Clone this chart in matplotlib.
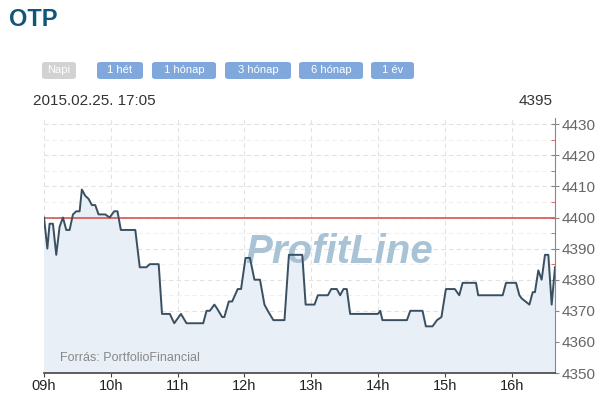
import numpy as np
import matplotlib
matplotlib.use("Agg")
import matplotlib.pyplot as plt
from matplotlib.patches import FancyBboxPatch
from matplotlib.ticker import MultipleLocator

plt.rcParams['font.family'] = ['Liberation Sans', 'DejaVu Sans']

# intraday trades, minutes after 09:00 and price (HUF)
minutes = [0, 3, 5, 8, 11, 14, 17, 20, 23, 26, 29, 32, 34, 37, 40, 43, 46, 49,
           55, 59, 63, 66, 69, 82, 86, 92, 95, 103, 106, 113, 117, 123, 128, 143,
           146, 149, 153, 155, 160, 162, 166, 169, 174, 177, 181, 185, 189, 194,
           198, 201, 206, 216, 220, 232, 235, 243, 246, 255, 258, 263, 266, 269,
           272, 275, 300, 302, 304, 326, 329, 340, 343, 349, 353, 357, 361, 369,
           373, 376, 388, 390, 412, 415, 424, 427, 429, 436, 439, 441, 444, 447,
           450, 453, 456, 459]
prices = [4400, 4390, 4398, 4398, 4388, 4397, 4400, 4396, 4396, 4401, 4402, 4402,
          4409, 4407, 4406, 4404, 4404, 4401, 4401, 4400, 4402, 4402, 4396, 4396,
          4384, 4384, 4385, 4385, 4369, 4369, 4366, 4369, 4366, 4366, 4370, 4370,
          4372, 4371, 4368, 4368, 4373, 4373, 4377, 4377, 4387, 4387, 4380, 4380,
          4372, 4370, 4367, 4367, 4388, 4388, 4372, 4372, 4375, 4375, 4377, 4377,
          4375, 4377, 4377, 4369, 4369, 4370, 4367, 4367, 4370, 4370, 4365, 4365,
          4367, 4368, 4377, 4377, 4375, 4379, 4379, 4375, 4375, 4379, 4379, 4375,
          4374, 4372, 4376, 4376, 4383, 4380, 4388, 4388, 4372, 4384]
prev_close = 4400
last_price = 4395
hour_ticks = [9, 10, 11, 12, 13, 14, 15, 16]
hour_labels = ['09h', '10h', '11h', '12h', '13h', '14h', '15h', '16h']
buttons = ['Napi', '1 hét', '1 hónap', '3 hónap', '6 hónap', '1 év']

hours = 9 + np.array(minutes) / 60.0

fig = plt.figure(figsize=(6.04, 4.09), dpi=100)
W, H = 604, 409

# header
fig.text(9 / W, 1 - 19 / H, 'OTP', fontsize=17, fontweight='bold',
         color='#0f5679', va='center', ha='left')

btn_x = [42, 97, 152, 225, 299, 371]
btn_w = [34, 46, 64, 66, 64, 43]
for i, lab in enumerate(buttons):
    col = '#d2d2d2' if i == 0 else '#80a8dc'
    box = FancyBboxPatch((btn_x[i] / W, 1 - 79 / H), btn_w[i] / W, 17 / H,
                         boxstyle='round,pad=0,rounding_size=0.006',
                         transform=fig.transFigure, facecolor=col,
                         edgecolor='none')
    fig.patches.append(box)
    fig.text((btn_x[i] + btn_w[i] / 2) / W, 1 - 70 / H, lab, fontsize=8,
             color='white', ha='center', va='center')

fig.text(33 / W, 1 - 101 / H, '2015.02.25. 17:05', fontsize=11,
         color='#333333', ha='left', va='center')
fig.text(553 / W, 1 - 101 / H, str(last_price), fontsize=11,
         color='#333333', ha='right', va='center')

ax = fig.add_axes([44 / W, 1 - 373 / H, (555 - 44) / W, (373 - 118) / H])
ax.set_xlim(9, 9 + 459 / 60.0)
ax.set_ylim(4350, 4432)

ax.fill_between(hours, prices, 4350, color='#e8eff7', zorder=1)
ax.plot(hours, prices, color='#3a5060', linewidth=1.4, zorder=4)
ax.axhline(prev_close, color='#d9534f', linewidth=1.4, alpha=0.85, zorder=3)

ax.text(0.577, 0.475, 'ProfitLine', transform=ax.transAxes, fontsize=29,
        fontweight='bold', fontstyle='italic', color='#a9c3d6',
        ha='center', va='center', zorder=2)
ax.text(0.031, 0.06, 'Forrás: PortfolioFinancial', transform=ax.transAxes,
        fontsize=9, color='#888888', ha='left', va='center', zorder=2)

ax.set_xticks(hour_ticks)
ax.set_xticklabels(hour_labels)
ax.yaxis.tick_right()
ax.yaxis.set_major_locator(MultipleLocator(10))
ax.yaxis.set_minor_locator(MultipleLocator(5))
ax.tick_params(axis='x', direction='inout', length=6, color='#444444',
               labelsize=10.5, labelcolor='#222222', pad=1)
ax.tick_params(axis='y', which='major', direction='inout', length=6,
               color='#888888', labelsize=11, labelcolor='#666666', pad=2)
ax.tick_params(axis='y', which='minor', direction='in', length=3,
               color='#d9534f')

ax.grid(True, which='major', linestyle=(0, (4, 3)), color='#e2e2e2',
        linewidth=0.8, zorder=0)
ax.grid(True, which='minor', axis='y', linestyle=(0, (4, 3)),
        color='#efefef', linewidth=0.8, zorder=0)
ax.set_axisbelow(True)

for s in ['top', 'left']:
    ax.spines[s].set_visible(False)
ax.spines['bottom'].set_color('#444444')
ax.spines['bottom'].set_linewidth(1.2)
ax.spines['right'].set_color('#888888')

fig.savefig('out.png', dpi=100)
